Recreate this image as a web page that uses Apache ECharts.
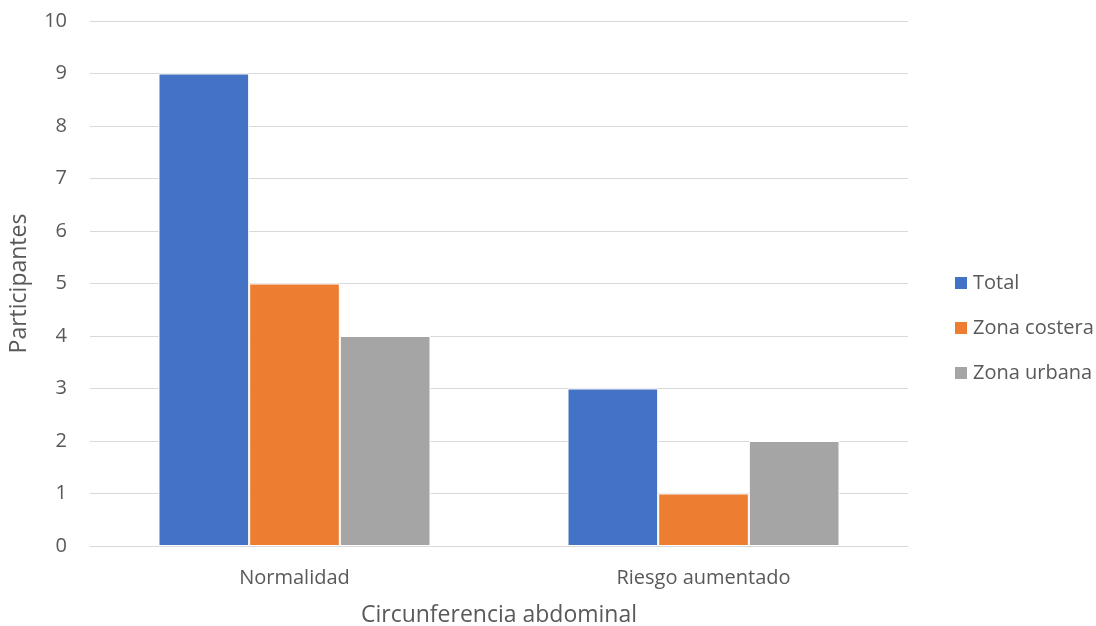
<!DOCTYPE html>
<html>
<head>
<meta charset="utf-8">
<script src="https://cdn.jsdelivr.net/npm/echarts@6/dist/echarts.min.js"></script>
<style>
  html, body { margin: 0; padding: 0; background: #ffffff; }
  #chart { width: 1096px; height: 626px; }
</style>
</head>
<body>
<div id="chart"></div>
<script>
// Participants by abdominal circumference category
const categories = ['Normalidad', 'Riesgo aumentado'];
const seriesNames = ['Total', 'Zona costera', 'Zona urbana'];
const totalValues = [9, 3];
const costeraValues = [5, 1];
const urbanaValues = [4, 2];
const colors = ['#4472C4', '#ED7D31', '#A5A5A5'];

const textColor = '#595959';
const fontFamily = '"Open Sans", "Noto Sans", sans-serif';

const chart = echarts.init(document.getElementById('chart'), null, { renderer: 'canvas' });

const makeSeries = (name, data, color) => ({
  name: name,
  type: 'bar',
  data: data,
  barGap: '0%',
  barCategoryGap: '33.5%',
  itemStyle: { color: color, borderColor: '#ffffff', borderWidth: 1 },
  emphasis: { disabled: true }
});

chart.setOption({
  animation: false,
  textStyle: { fontFamily: fontFamily, color: textColor },
  grid: {
    left: 90, right: 188, top: 21, bottom: 80,
    containLabel: false,
    outerBoundsMode: 'none'
  },
  legend: {
    orient: 'vertical',
    left: 948,
    top: 266,
    padding: 5,
    itemWidth: 14,
    itemHeight: 14,
    itemGap: 21,
    icon: 'rect',
    textStyle: { fontSize: 20, lineHeight: 24, color: textColor, fontFamily: fontFamily },
    data: seriesNames
  },
  xAxis: {
    type: 'category',
    data: categories,
    name: 'Circunferencia abdominal',
    nameLocation: 'middle',
    nameGap: 58,
    nameTextStyle: { fontSize: 23, color: textColor },
    axisLine: { lineStyle: { color: '#D9D9D9', width: 1 } },
    axisTick: { show: false },
    axisLabel: { fontSize: 20, color: textColor, margin: 22 }
  },
  yAxis: {
    type: 'value',
    min: 0,
    max: 10,
    interval: 1,
    name: 'Participantes',
    nameLocation: 'middle',
    nameGap: 59,
    nameRotate: 90,
    nameTextStyle: { fontSize: 23, color: textColor },
    axisLine: { show: false },
    axisTick: { show: false },
    axisLabel: { fontSize: 20, color: textColor, margin: 23 },
    splitLine: { lineStyle: { color: '#D9D9D9', width: 1 } }
  },
  series: [
    makeSeries(seriesNames[0], totalValues, colors[0]),
    makeSeries(seriesNames[1], costeraValues, colors[1]),
    makeSeries(seriesNames[2], urbanaValues, colors[2])
  ]
});
</script>
</body>
</html>
